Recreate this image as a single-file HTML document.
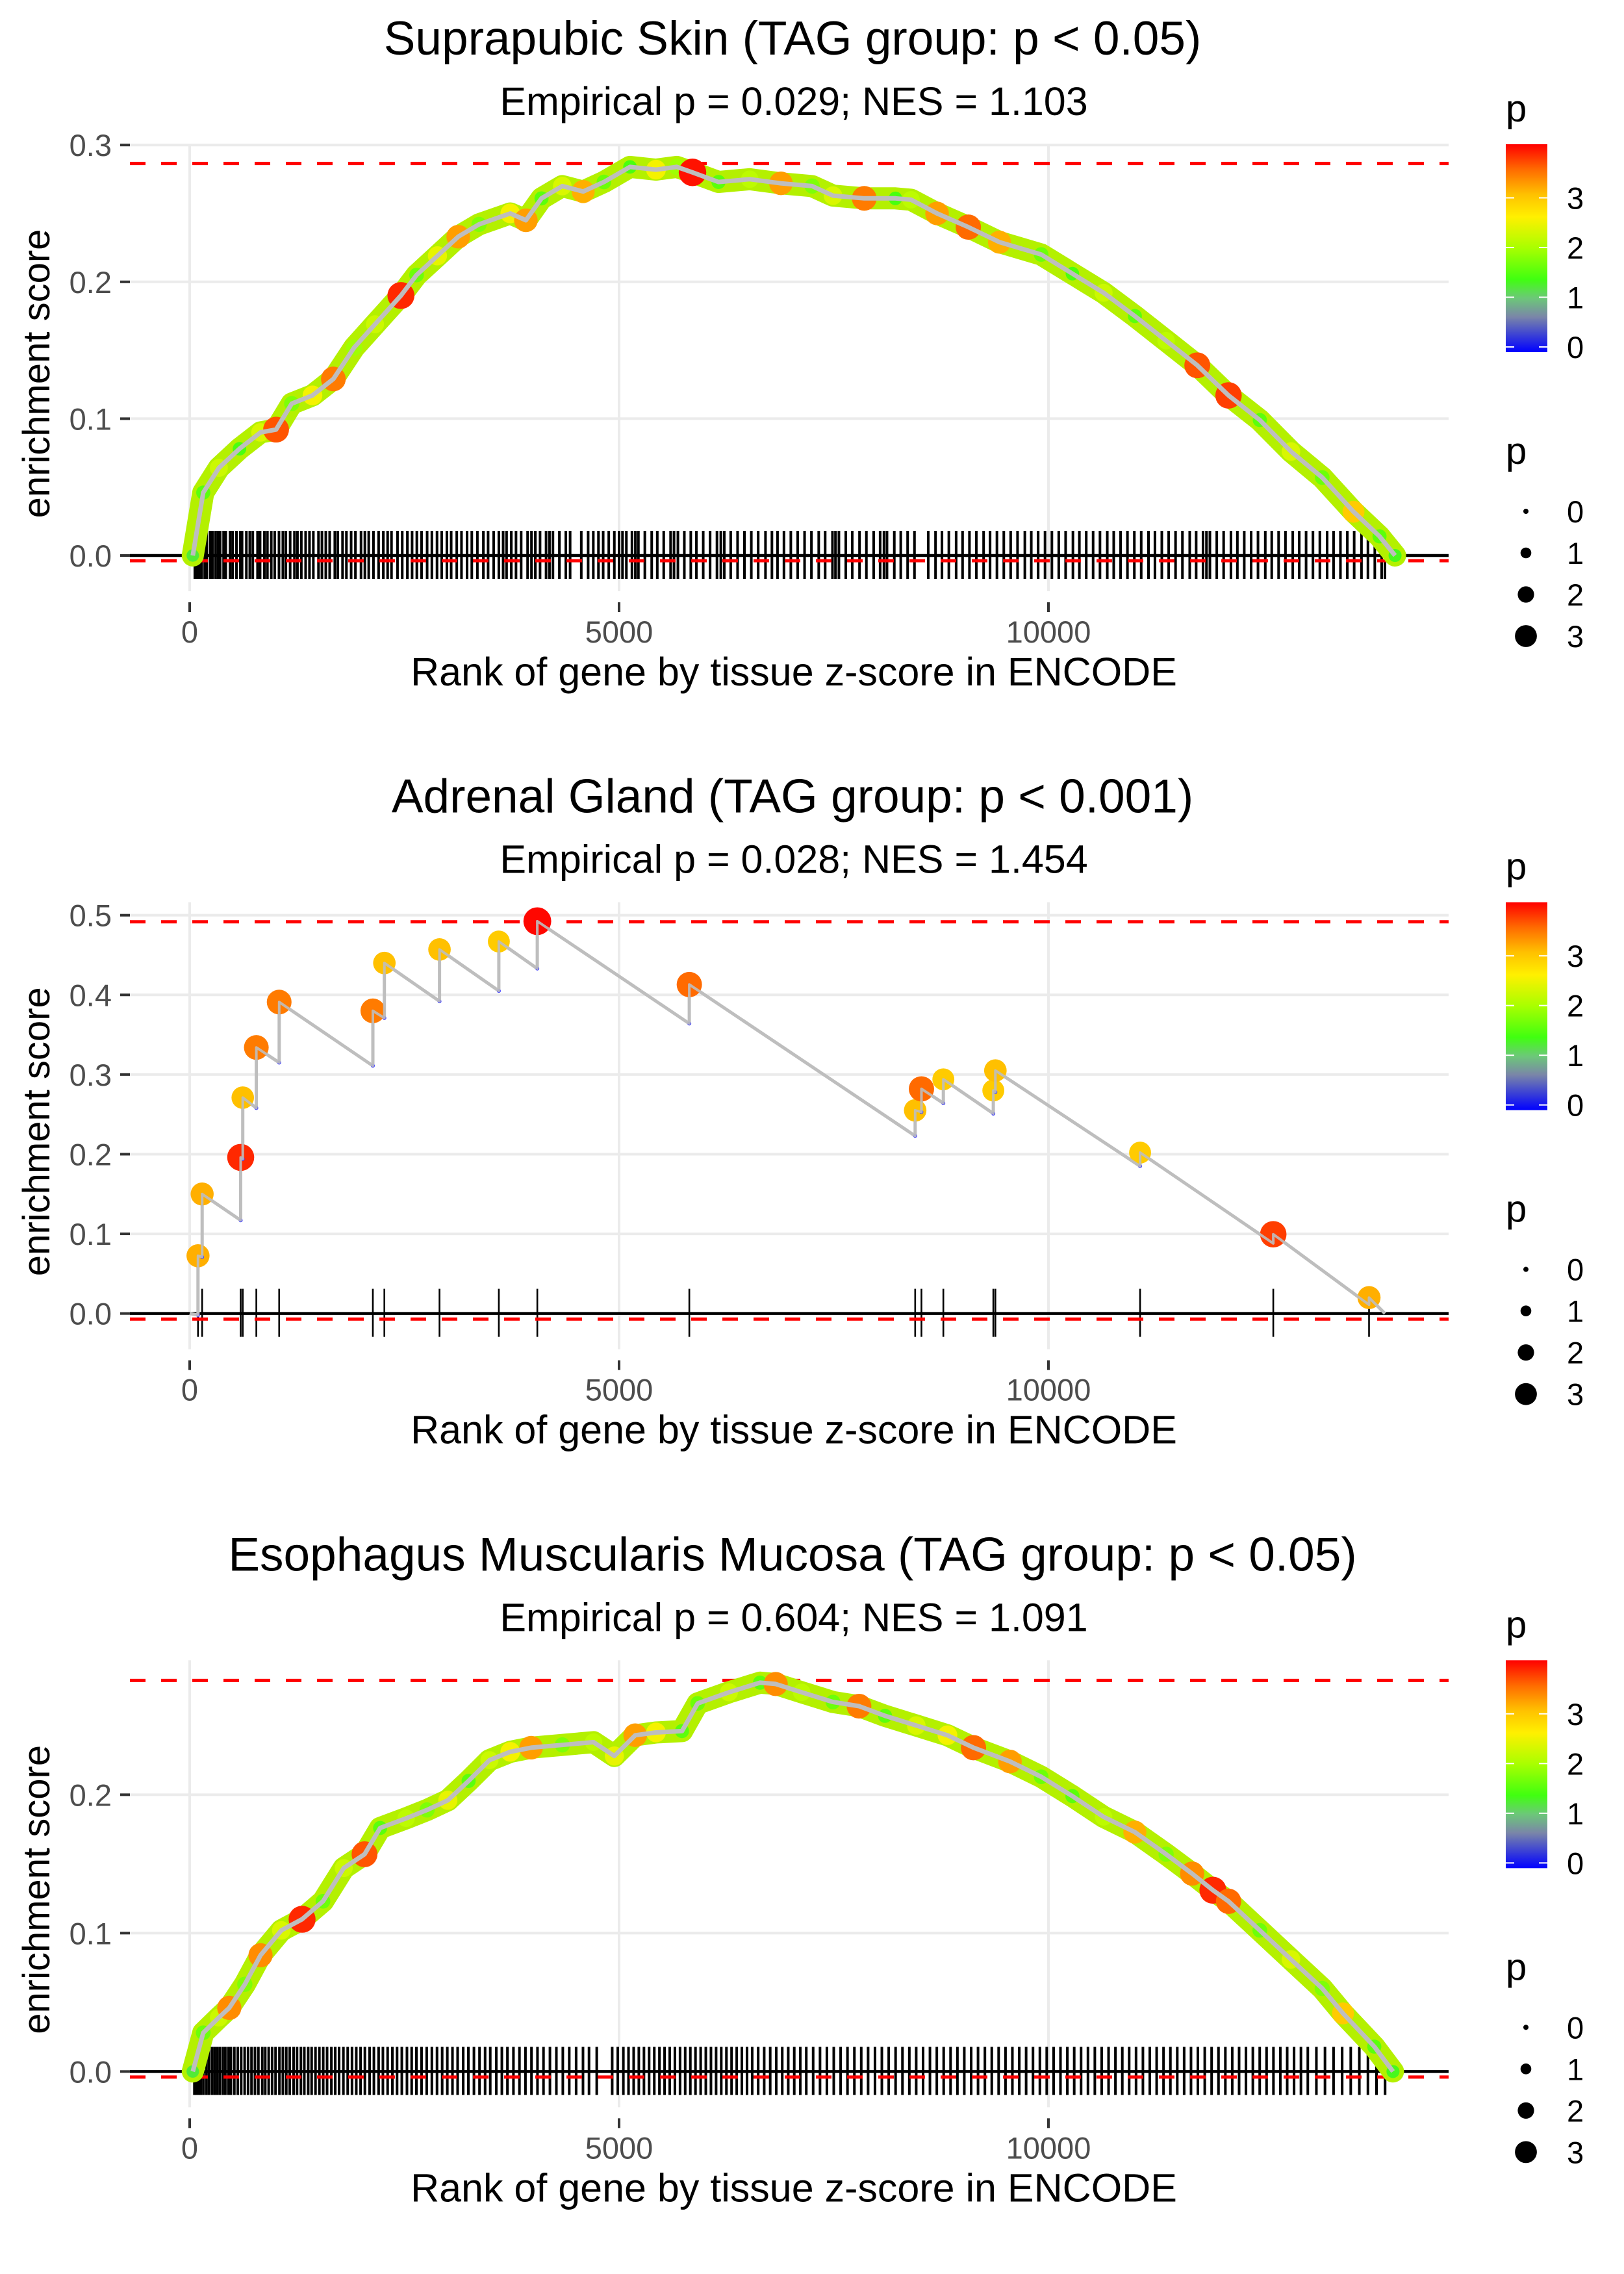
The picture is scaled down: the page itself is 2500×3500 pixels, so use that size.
<!DOCTYPE html>
<html><head><meta charset="utf-8">
<style>
html,body{margin:0;padding:0;background:#fff;}
svg{display:block;font-family:"Liberation Sans",Arial,sans-serif;}
</style></head>
<body>
<svg id="chart" xmlns="http://www.w3.org/2000/svg" width="2500" height="3500" viewBox="0 0 2500 3500">
<defs>
<linearGradient id="cbar" x1="0" y1="1" x2="0" y2="0">
<stop offset="0" stop-color="#0000FF"/>
<stop offset="0.17" stop-color="#7A86A8"/>
<stop offset="0.26" stop-color="#6CC878"/>
<stop offset="0.35" stop-color="#40FF10"/>
<stop offset="0.50" stop-color="#A8FF00"/>
<stop offset="0.65" stop-color="#FFF000"/>
<stop offset="0.76" stop-color="#FFC000"/>
<stop offset="0.88" stop-color="#FF6A00"/>
<stop offset="1" stop-color="#FF0000"/>
</linearGradient>
</defs>
</svg>
<script>
// ---------- Panel 1: Suprapubic Skin ----------
const p1Ranks=[36,158,340,580,825,1006,1188,1430,1673,1915,2158,2460,2642,2885,3127,3370,3733,3915,4097,4339,4582,4824,5127,5430,5673,5855,6158,6521,6885,7248,7491,7855,8218,8400,8703,9067,9430,9915,10279,10642,11006,11370,11733,12097,12461,12824,13188,13552,13855,14036];
const p1ES=[0,0.046,0.064,0.078,0.090,0.092,0.111,0.117,0.129,0.152,0.169,0.190,0.205,0.219,0.233,0.242,0.250,0.245,0.261,0.270,0.266,0.273,0.284,0.282,0.284,0.280,0.273,0.275,0.272,0.270,0.263,0.261,0.261,0.260,0.250,0.240,0.229,0.220,0.206,0.192,0.175,0.157,0.139,0.117,0.099,0.076,0.057,0.032,0.014,0];
const p1P=[1.3,1.6,2.3,1.5,2.4,3.7,1.8,2.6,3.5,2.0,2.3,3.9,1.7,2.5,3.3,1.8,2.6,3.3,1.6,2.4,3.2,1.7,1.5,2.6,2.0,4.0,1.6,2.2,3.3,1.8,2.4,3.5,1.5,2.2,3.3,3.6,3.2,1.7,1.5,2.3,1.6,2.2,3.7,3.8,1.6,2.4,1.7,3.0,1.6,1.4];
const p1Rug=[60,85,110,140,175,200,240,265,300,330,355,395,420,470,500,545,590,610,660,700,735,790,820,870,905,950,990,1040,1085,1120,1170,1220,1255,1300,1350,1395,1440,1500,1540,1585,1630,1690,1725,1780,1825,1880,1930,1995,2040,2085,2140,2200,2255,2305,2350,2420,2475,2535,2590,2645,2700,2765,2820,2880,2935,2995,3045,3110,3165,3230,3285,3350,3420,3475,3540,3600,3650,3690,3745,3800,3860,3935,3980,4025,4080,4150,4190,4230,4305,4380,4430,4560,4640,4700,4760,4815,4880,4945,5000,5040,5085,5150,5190,5225,5300,5380,5445,5520,5600,5640,5685,5760,5835,5900,5980,6060,6140,6185,6225,6300,6380,6460,6540,6620,6705,6780,6845,6920,7000,7080,7160,7240,7325,7400,7485,7520,7560,7640,7715,7800,7880,7965,8040,8085,8120,8205,8280,8360,8440,8600,8685,8760,8840,8925,9000,9080,9160,9245,9320,9400,9480,9560,9640,9725,9800,9880,9960,10040,10120,10200,10285,10360,10440,10520,10600,10685,10760,10840,10920,11000,11080,11165,11240,11320,11400,11480,11560,11645,11720,11800,11840,11880,11960,12040,12125,12200,12280,12360,12440,12525,12600,12680,12760,12845,12920,13000,13080,13160,13245,13320,13400,13480,13560,13645,13720,13800,13880,13918];
// ---------- Panel 2: Adrenal Gland ----------
const p2Ranks=[97,145,594,618,776,1042,2133,2267,2909,3600,4048,5818,8448,8521,8776,9358,9382,11067,12618,13733];
const p2Peak=[0.0725,0.150,0.196,0.271,0.334,0.391,0.380,0.440,0.457,0.467,0.4925,0.413,0.255,0.282,0.294,0.280,0.305,0.202,0.0995,0.020];
const p2Before=[-0.002,0.071,0.117,0.194,0.258,0.315,0.311,0.371,0.392,0.405,0.433,0.364,0.223,0.253,0.264,0.251,0.278,0.185,0.088,0.011];
const p2P=[3.2,3.2,3.9,3.1,3.5,3.5,3.5,3.1,3.1,3.0,4.05,3.6,3.1,3.6,3.0,3.0,3.1,3.0,3.8,3.2];
// ---------- Panel 3: Esophagus Muscularis Mucosa ----------
const p3Ranks=[36,158,340,461,642,825,1067,1309,1552,1794,2036,2218,2521,2764,3006,3248,3491,3733,3976,4339,4703,4945,5188,5430,5733,5915,6279,6642,6824,7127,7491,7794,8097,8461,8824,9127,9552,9915,10279,10642,11006,11370,11673,11915,12097,12461,12824,13188,13430,13794,14012];
const p3ES=[0,0.028,0.039,0.046,0.063,0.084,0.102,0.110,0.123,0.147,0.157,0.176,0.183,0.189,0.196,0.210,0.225,0.231,0.234,0.236,0.238,0.228,0.243,0.245,0.246,0.266,0.274,0.281,0.280,0.274,0.267,0.264,0.257,0.250,0.243,0.234,0.224,0.213,0.199,0.184,0.173,0.157,0.143,0.131,0.123,0.102,0.081,0.060,0.042,0.018,0];
const p3P=[1.3,1.7,2.3,3.4,1.8,3.4,2.4,3.9,1.7,2.3,3.7,1.6,2.2,1.8,2.5,1.6,2.3,2.6,3.3,1.8,2.2,2.5,3.3,2.6,1.6,1.7,2.3,1.6,3.4,2.2,1.7,3.5,1.6,2.4,2.6,3.6,3.3,1.7,1.6,2.2,3.2,1.8,3.4,3.9,3.6,1.7,2.4,1.8,3.0,1.6,1.4];
const p3Rug=[55,80,105,130,160,195,225,260,290,320,350,385,415,450,480,520,560,600,640,680,720,760,800,845,880,920,960,1000,1045,1085,1125,1165,1210,1250,1295,1335,1380,1420,1465,1510,1555,1600,1650,1695,1740,1790,1840,1890,1940,1990,2040,2095,2145,2200,2250,2305,2360,2415,2470,2530,2585,2640,2700,2760,2820,2880,2940,3000,3060,3120,3185,3245,3310,3375,3440,3500,3570,3635,3700,3770,3840,3910,3980,4050,4120,4195,4270,4345,4420,4500,4580,4650,4740,4920,4985,5050,5110,5170,5230,5290,5350,5410,5470,5530,5590,5650,5710,5770,5830,5890,5950,6010,6070,6130,6190,6250,6310,6370,6430,6490,6550,6620,6690,6760,6830,6900,6970,7040,7110,7180,7260,7340,7420,7500,7580,7660,7740,7820,7900,7980,8060,8140,8220,8300,8380,8460,8540,8620,8700,8780,8860,8940,9020,9100,9180,9260,9340,9420,9500,9580,9660,9740,9820,9900,9980,10060,10140,10220,10300,10380,10460,10540,10620,10700,10780,10860,10940,11020,11100,11180,11260,11340,11420,11500,11580,11660,11740,11820,11900,11980,12060,12140,12220,12300,12380,12460,12540,12620,12700,12780,12860,12940,13020,13120,13220,13320,13420,13520,13620,13720,13820,13920];

const titles=["Suprapubic Skin (TAG group: p < 0.05)","Adrenal Gland (TAG group: p < 0.001)","Esophagus Muscularis Mucosa (TAG group: p < 0.05)"];
const subtitles=["Empirical p = 0.029; NES = 1.103","Empirical p = 0.028; NES = 1.454","Empirical p = 0.604; NES = 1.091"];
const yTicks=[[0,0.1,0.2,0.3],[0,0.1,0.2,0.3,0.4,0.5],[0,0.1,0.2]];
const xTicks=[0,5000,10000];
const maxES=[0.2865,0.4918,0.2826];
const minES=[-0.0038,-0.007,-0.004];

const NS="http://www.w3.org/2000/svg";
const svg=document.getElementById('chart');
function mk(tag,attrs,parent){const e=document.createElementNS(NS,tag);for(const k in attrs)e.setAttribute(k,attrs[k]);(parent||svg).appendChild(e);return e;}
const X=v=>292+v*0.1322;
const yScale=[2106,1226,2130];
const stops=[[0,[0,0,255]],[0.7,[122,134,168]],[1.05,[108,200,120]],[1.45,[64,255,16]],[2.05,[168,255,0]],[2.67,[255,240,0]],[3.1,[255,192,0]],[3.6,[255,106,0]],[4.08,[255,0,0]]];
function col(p){if(p<=0)return 'rgb(0,0,255)';for(let i=1;i<stops.length;i++){if(p<=stops[i][0]){const a=stops[i-1],b=stops[i];const t=(p-a[0])/(b[0]-a[0]);const c=a[1].map((v,j)=>Math.round(v+(b[1][j]-v)*t));return 'rgb('+c.join(',')+')';}}return 'rgb(255,0,0)';}
const R=p=>4+4.3*p;

for(let k=0;k<3;k++){
  const o=k*1166.67;
  const y0=o+855;
  const Y=v=>y0-v*yScale[k];
  const g=mk('g',{});
  
  
  const top=o+222,bot=o+910;
  yTicks[k].forEach(t=>{
    const l=mk('line',{x1:200,x2:2230,y1:Y(t),y2:Y(t),stroke:'#EBEBEB','stroke-width':4},g);
    
    
  });
  xTicks.forEach(t=>{
    const l=mk('line',{x1:X(t),x2:X(t),y1:top,y2:bot,stroke:'#EBEBEB','stroke-width':4},g);
    
    
  });
  let rug;
  if(k===0)rug=p1Rug;else if(k===1)rug=p2Ranks;else rug=p3Rug;
  const rg=mk('g',{},g);
  
  
  rug.forEach(r=>{
    const l=mk('line',{x1:X(r),x2:X(r),y1:y0-38,y2:y0+36,stroke:'#000','stroke-width':k===1?2.6:4},rg);
    
    
  });
  const zl=mk('line',{x1:200,x2:2230,y1:y0,y2:y0,stroke:'#000','stroke-width':4.5},g);
  
  
  [maxES[k],minES[k]].forEach((v,i)=>{
    const l=mk('line',{x1:200,x2:2230,y1:Y(v),y2:Y(v),stroke:'#FF0000','stroke-width':5,'stroke-dasharray':'24 24'},g);
    
    
  });
  if(k!==1){
    const ranks=k===0?p1Ranks:p3Ranks, es=k===0?p1ES:p3ES, pv=k===0?p1P:p3P;
    const pts=ranks.map((r,i)=>X(r).toFixed(1)+','+Y(es[i]).toFixed(1)).join(' ');
    const band=mk('polyline',{points:pts,fill:'none',stroke:'#B4F000','stroke-width':34,'stroke-linejoin':'round','stroke-linecap':'round'},g);
    
    
    ranks.forEach((r,i)=>{
      const c=mk('circle',{cx:X(r),cy:Y(es[i]),r:R(pv[i]),fill:col(pv[i])},g);
      
      
    });
    const ln=mk('polyline',{points:pts,fill:'none',stroke:'#BEBEBE','stroke-width':7,'stroke-linejoin':'round'},g);
    
    
  } else {
    let d='M'+X(0)+','+Y(0);
    p2Ranks.forEach((r,i)=>{d+=' L'+X(r).toFixed(1)+','+Y(p2Before[i]).toFixed(1)+' L'+X(r).toFixed(1)+','+Y(p2Peak[i]).toFixed(1);});
    d+=' L'+X(13918)+','+Y(0);
    const ln=mk('path',{d:d,fill:'none',stroke:'#BEBEBE','stroke-width':5,'stroke-linejoin':'round'},g);
    
    
    p2Ranks.forEach((r,i)=>{
      const b=mk('circle',{cx:X(r),cy:Y(p2Before[i]),r:3,fill:'#4040FF'},g);
      
      
      const c=mk('circle',{cx:X(r),cy:Y(p2Peak[i]),r:R(p2P[i]),fill:col(p2P[i])},g);
      
      
    });
    const ln2=mk('path',{d:d,fill:'none',stroke:'#BEBEBE','stroke-width':4,'stroke-linejoin':'round',opacity:0.9},g);
    
    
  }
  yTicks[k].forEach(t=>{
    const tk=mk('line',{x1:185,x2:200,y1:Y(t),y2:Y(t),stroke:'#333','stroke-width':4},g);
    
    
    const tx=mk('text',{x:172,y:Y(t)+17,'text-anchor':'end','font-size':47,fill:'#4D4D4D'},g);
    tx.textContent=t.toFixed(1);
    
    
  });
  xTicks.forEach(t=>{
    const tk=mk('line',{x1:X(t),x2:X(t),y1:o+927,y2:o+942,stroke:'#333','stroke-width':4},g);
    
    
    const tx=mk('text',{x:X(t),y:o+989,'text-anchor':'middle','font-size':47,fill:'#4D4D4D'},g);
    tx.textContent=String(t);
    
    
  });
  const ti=mk('text',{x:1220,y:o+84,'text-anchor':'middle','font-size':73,fill:'#000'},g);
  ti.textContent=titles[k];
  
  
  const st=mk('text',{x:1222,y:o+177,'text-anchor':'middle','font-size':61,fill:'#000'},g);
  st.textContent=subtitles[k];
  
  
  const xt=mk('text',{x:1222,y:o+1055,'text-anchor':'middle','font-size':61,fill:'#000'},g);
  xt.textContent='Rank of gene by tissue z-score in ENCODE';
  
  
  const yt=mk('text',{x:0,y:0,'text-anchor':'middle','font-size':58,fill:'#000',transform:'translate(76,'+(o+575)+') rotate(-90)'},g);
  yt.textContent='enrichment score';
  
  
  const lg=mk('g',{},g);
  
  
  const lt=mk('text',{x:2318,y:o+187,'font-size':58,fill:'#000'},lg);
  lt.textContent='p';
  
  
  const cb=mk('rect',{x:2318,y:o+222,width:64,height:320,fill:'url(#cbar)'},lg);
  
  
  [0,1,2,3].forEach(v=>{
    const yy=o+534-v*76.5;
    const a=mk('line',{x1:2318,x2:2331,y1:yy,y2:yy,stroke:'#fff','stroke-width':2},lg);
    
    
    const b=mk('line',{x1:2369,x2:2382,y1:yy,y2:yy,stroke:'#fff','stroke-width':2},lg);
    
    
    const t=mk('text',{x:2412,y:yy+17,'font-size':47,fill:'#000'},lg);
    t.textContent=String(v);
    
    
  });
  const sg=mk('g',{},g);
  
  
  const s0=mk('text',{x:2318,y:o+714,'font-size':58,fill:'#000'},sg);
  s0.textContent='p';
  
  
  [0,1,2,3].forEach(v=>{
    const yy=o+787+v*64;
    const c=mk('circle',{cx:2349,cy:yy,r:R(v),fill:'#000'},sg);
    
    
    const t=mk('text',{x:2412,y:yy+17,'font-size':47,fill:'#000'},sg);
    t.textContent=String(v);
    
    
  });
}
</script>
</body></html>
